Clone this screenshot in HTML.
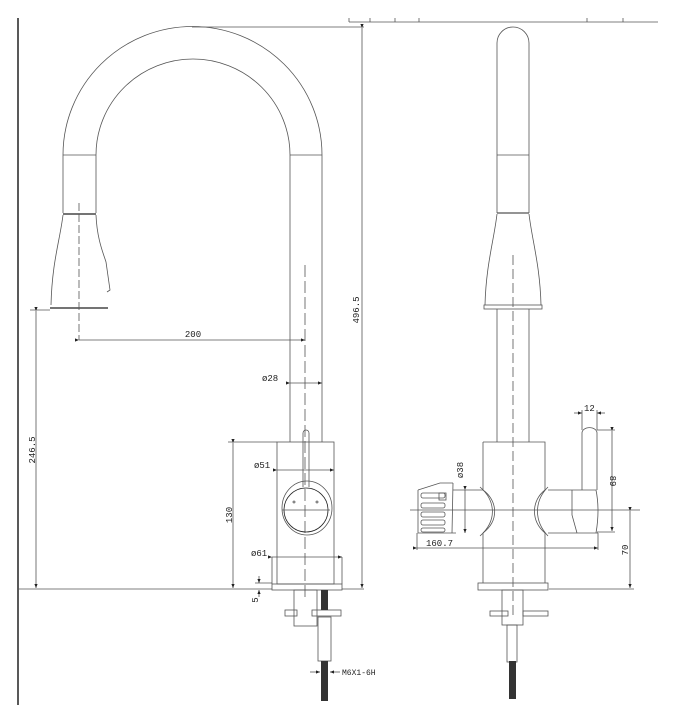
<!DOCTYPE html>
<html><head><style>html,body{margin:0;padding:0;background:#fff}svg{display:block}</style></head><body>
<svg width="677" height="720" viewBox="0 0 677 720" xmlns="http://www.w3.org/2000/svg" font-family="Liberation Mono, monospace" font-size="9">
<defs><marker id="a" markerWidth="6" markerHeight="6" refX="5" refY="3" orient="auto"><path d="M0,1 L5,3 L0,5Z" fill="#222"/></marker></defs>
<rect width="677" height="720" fill="#fff"/>
<g fill="none" stroke="#555" stroke-width="0.8">
<line x1="18" y1="18" x2="18" y2="705" stroke="#222" stroke-width="1.5"/>
<line x1="349" y1="22" x2="658" y2="22"/>
<path d="M349 22v-4M370 22v-4M395 22v-4M419 22v-4M587 22v-4M623 22v-4"/>
<path d="M63 155 A129 128 0 0 1 322 155"/>
<path d="M96 155 A97 96 0 0 1 290 155"/>
<line x1="63" y1="155" x2="96" y2="155"/><line x1="290" y1="155" x2="322" y2="155"/>
<line x1="63" y1="155" x2="63" y2="213"/><line x1="96" y1="155" x2="96" y2="213"/>
<line x1="63" y1="214" x2="96" y2="214" stroke="#222" stroke-width="1.3"/>
<path d="M63 215 C60 240 52 262 51 305"/><path d="M96 215 C97 240 104 255 106 262 L110 290 L107 292"/>
<line x1="50" y1="308" x2="108" y2="308" stroke="#222" stroke-width="1.2"/>
<line x1="79" y1="203" x2="79" y2="340" stroke-dasharray="8 3"/>
<line x1="79" y1="340" x2="305" y2="340" marker-start="url(#a)" marker-end="url(#a)"/>
<line x1="305" y1="265" x2="305" y2="600" stroke-dasharray="12 4"/>
<line x1="290" y1="155" x2="290" y2="442"/><line x1="322" y1="155" x2="322" y2="442"/>
<line x1="192" y1="27" x2="364" y2="27"/>
<line x1="362" y1="28" x2="362" y2="588" marker-start="url(#a)" marker-end="url(#a)"/>
<rect x="277" y="442" width="57" height="142"/>
<rect x="272" y="584" width="70" height="6"/>
<path d="M303 487 V433 A3 3 0 0 1 309 433 V487"/>
<ellipse cx="307" cy="508" rx="25" ry="27"/>
<circle cx="306" cy="510" r="22" stroke="#222"/>
<line x1="282" y1="510" x2="330" y2="510"/>
<circle cx="294" cy="502" r="1"/><circle cx="317" cy="502" r="1"/>
<line x1="290" y1="383" x2="322" y2="383" marker-start="url(#a)" marker-end="url(#a)"/>
<line x1="277" y1="470" x2="334" y2="470" marker-start="url(#a)" marker-end="url(#a)"/>
<line x1="272" y1="557" x2="342" y2="557" marker-start="url(#a)" marker-end="url(#a)"/>
<line x1="272" y1="557" x2="272" y2="584"/><line x1="342" y1="557" x2="342" y2="584"/>
<line x1="228" y1="442" x2="277" y2="442"/>
<line x1="233" y1="443" x2="233" y2="588" marker-start="url(#a)" marker-end="url(#a)"/>
<line x1="30" y1="310" x2="50" y2="310"/>
<line x1="36" y1="311" x2="36" y2="588" marker-start="url(#a)" marker-end="url(#a)"/>
<line x1="18" y1="589" x2="272" y2="589"/><line x1="342" y1="589" x2="364" y2="589"/>
<line x1="255" y1="583" x2="272" y2="583"/>
<line x1="259" y1="576" x2="259" y2="583" marker-end="url(#a)"/><line x1="259" y1="597" x2="259" y2="590" marker-end="url(#a)"/>
<rect x="294" y="590" width="23" height="36"/>
<rect x="285" y="610" width="12" height="6"/><rect x="312" y="610" width="29" height="6"/>
<rect x="318" y="617" width="13" height="44"/>
<line x1="310" y1="672" x2="320" y2="672" marker-end="url(#a)"/><line x1="340" y1="672" x2="330" y2="672" marker-end="url(#a)"/>
<path d="M497 213 V43 A16 16 0 0 1 529 43 V213"/>
<line x1="497" y1="155" x2="529" y2="155"/>
<line x1="497" y1="213" x2="529" y2="213" stroke-width="1.2"/>
<path d="M497 214 C494 240 486 265 485 305"/><path d="M529 214 C532 240 540 265 541 305"/>
<rect x="484" y="305" width="58" height="4"/>
<line x1="513" y1="255" x2="513" y2="615" stroke-dasharray="10 4"/>
<line x1="497" y1="309" x2="497" y2="442"/><line x1="529" y1="309" x2="529" y2="442"/>
<path d="M483 442 H545 V490 M483 442 V490"/>
<path d="M483 490 C497 500 500 520 483 533"/><path d="M480 487 C495 500 498 520 480 536" />
<path d="M545 490 C532 500 530 520 545 533"/><path d="M548 487 C535 500 533 520 548 536"/>
<path d="M483 533 V583 M545 533 V583"/>
<line x1="548" y1="490" x2="572" y2="490"/><line x1="548" y1="533" x2="598" y2="533"/>
<path d="M572 490 H596 Q600 510 596 533 M572 490 V515 L577 533"/>
<path d="M582 490 V433 A7 5 0 0 1 597 433 V490"/>
<rect x="478" y="583" width="70" height="7"/>
<path d="M453 483 L452 533 M418 490 V533 H456 M418 490 L440 483 H453"/>
<rect x="421" y="493" width="24" height="5" rx="2"/><rect x="421" y="503" width="24" height="5" rx="2"/>
<rect x="421" y="512" width="24" height="5" rx="2"/><rect x="421" y="520" width="24" height="5" rx="2"/><rect x="421" y="528" width="24" height="4" rx="2"/>
<rect x="439" y="493" width="7" height="7"/>
<line x1="453" y1="490" x2="483" y2="490"/>
<line x1="410" y1="510" x2="640" y2="510"/>
<line x1="465" y1="490" x2="465" y2="533" marker-start="url(#a)" marker-end="url(#a)"/>
<line x1="417" y1="548" x2="598" y2="548" marker-start="url(#a)" marker-end="url(#a)"/>
<line x1="417" y1="533" x2="417" y2="550"/><line x1="598" y1="533" x2="598" y2="550"/>
<line x1="574" y1="413" x2="582" y2="413" marker-end="url(#a)"/><line x1="605" y1="413" x2="597" y2="413" marker-end="url(#a)"/>
<line x1="582" y1="410" x2="582" y2="430"/><line x1="597" y1="410" x2="597" y2="430"/>
<line x1="597" y1="430" x2="615" y2="430"/><line x1="597" y1="532" x2="615" y2="532"/>
<line x1="612" y1="431" x2="612" y2="531" marker-start="url(#a)" marker-end="url(#a)"/>
<line x1="549" y1="589" x2="634" y2="589"/>
<line x1="630" y1="511" x2="630" y2="588" marker-start="url(#a)" marker-end="url(#a)"/>
<rect x="502" y="590" width="21" height="35"/>
<rect x="490" y="611" width="18" height="5"/><rect x="523" y="611" width="25" height="5"/>
<rect x="507" y="625" width="10" height="37"/>
</g>
<rect x="321" y="590" width="7" height="20" fill="#333"/>
<rect x="321" y="661" width="7" height="40" fill="#333"/>
<rect x="509" y="661" width="7" height="38" fill="#333"/>
<g fill="#222">
<text x="193" y="337" text-anchor="middle">200</text>
<text x="262" y="381">ø28</text>
<text x="254" y="468">ø51</text>
<text x="251" y="556">ø61</text>
<text x="342" y="675" font-size="8">M6X1-6H</text>
<text x="426" y="546">160.7</text>
<text x="584" y="411">12</text>
<text transform="translate(359 310) rotate(-90)" text-anchor="middle">496.5</text>
<text transform="translate(35 450) rotate(-90)" text-anchor="middle">246.5</text>
<text transform="translate(232 515) rotate(-90)" text-anchor="middle">130</text>
<text transform="translate(258 600) rotate(-90)" text-anchor="middle">5</text>
<text transform="translate(463 470) rotate(-90)" text-anchor="middle">ø38</text>
<text transform="translate(610 481) rotate(90)" text-anchor="middle">89</text>
<text transform="translate(628 550) rotate(-90)" text-anchor="middle">70</text>
</g>
</svg>
</body></html>
